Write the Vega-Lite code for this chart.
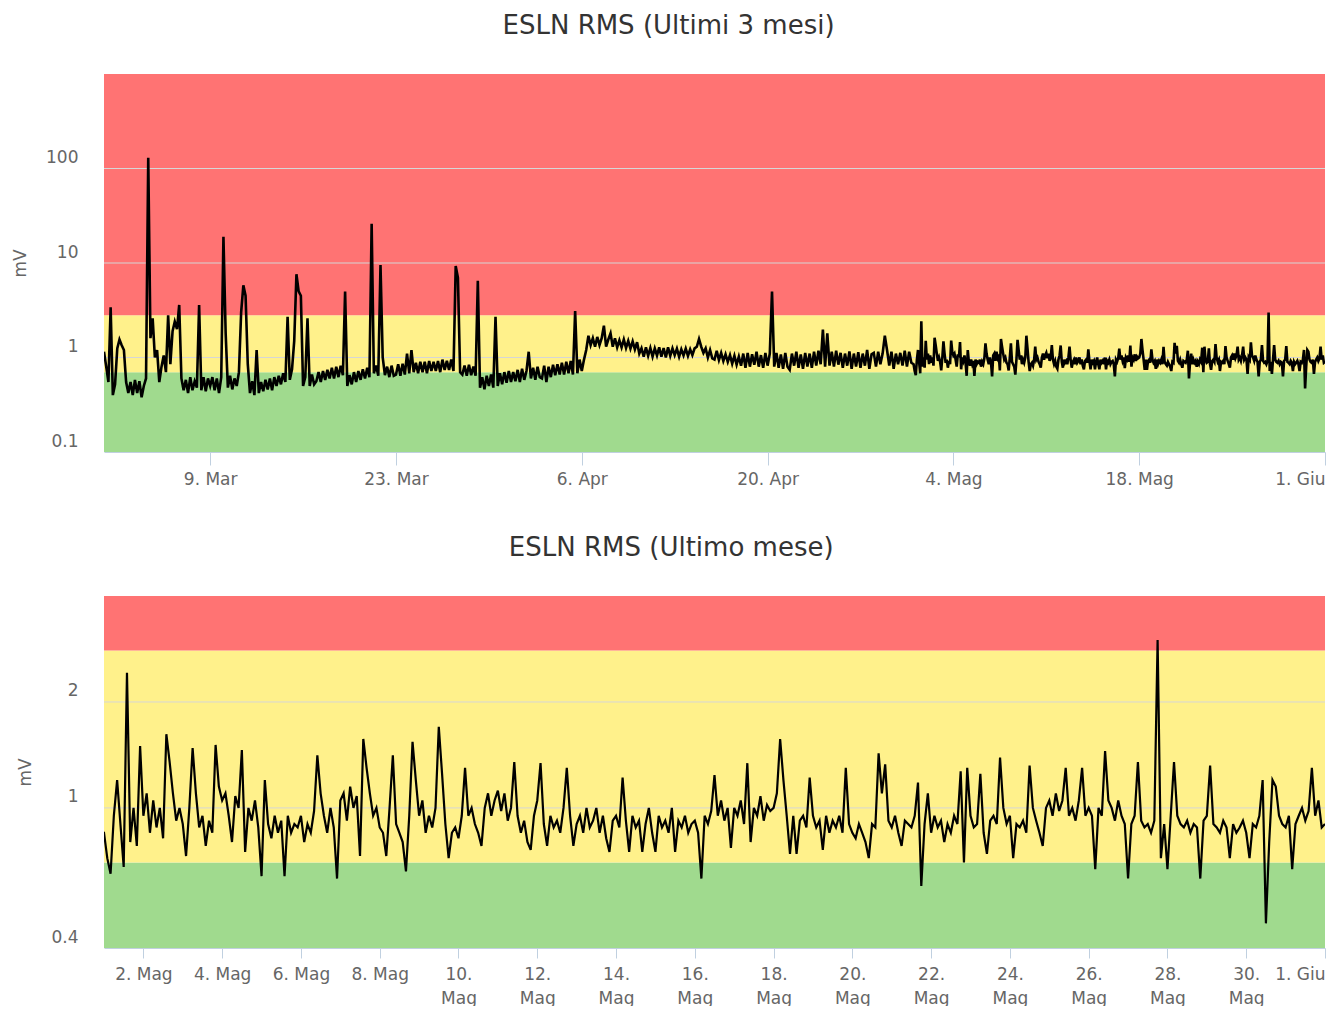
{
  "$schema": "https://vega.github.io/schema/vega-lite/v6.json",
  "padding": {"left": 11, "right": 2, "top": 13, "bottom": 0},
  "datasets": {
    "bandsTop": [
      {"zone": "verde", "lo": 0.1, "hi": 0.7},
      {"zone": "giallo", "lo": 0.7, "hi": 2.8},
      {"zone": "rosso", "lo": 2.8, "hi": 1000}
    ],
    "bandsBot": [
      {"zone": "verde", "lo": 0.4, "hi": 0.7},
      {"zone": "giallo", "lo": 0.7, "hi": 2.8},
      {"zone": "rosso", "lo": 2.8, "hi": 4}
    ],
    "gridTop": [{"g": 1}, {"g": 10}, {"g": 100}],
    "gridBot": [{"g": 1}, {"g": 2}],
    "rms": [
      {"t":"2015-03-01T00:00","v":1.15},{"t":"2015-03-01T04:00","v":0.8},{"t":"2015-03-01T08:00","v":0.55},{"t":"2015-03-01T12:00","v":3.4},{"t":"2015-03-01T16:00","v":0.4},{"t":"2015-03-01T20:00","v":0.52},
      {"t":"2015-03-02T00:00","v":1.25},{"t":"2015-03-02T04:00","v":1.55},{"t":"2015-03-02T08:00","v":1.35},{"t":"2015-03-02T12:00","v":1.2},{"t":"2015-03-02T16:00","v":0.55},{"t":"2015-03-02T20:00","v":0.42},
      {"t":"2015-03-03T00:00","v":0.55},{"t":"2015-03-03T04:00","v":0.4},{"t":"2015-03-03T08:00","v":0.58},{"t":"2015-03-03T12:00","v":0.42},{"t":"2015-03-03T16:00","v":0.56},{"t":"2015-03-03T20:00","v":0.38},
      {"t":"2015-03-04T00:00","v":0.5},{"t":"2015-03-04T04:00","v":0.6},{"t":"2015-03-04T08:00","v":130},{"t":"2015-03-04T12:00","v":1.6},{"t":"2015-03-04T16:00","v":2.6},{"t":"2015-03-04T20:00","v":1.0},
      {"t":"2015-03-05T00:00","v":1.2},{"t":"2015-03-05T04:00","v":0.55},{"t":"2015-03-05T08:00","v":0.8},{"t":"2015-03-05T12:00","v":1.05},{"t":"2015-03-05T16:00","v":0.7},{"t":"2015-03-05T20:00","v":2.8},
      {"t":"2015-03-06T00:00","v":0.85},{"t":"2015-03-06T04:00","v":1.9},{"t":"2015-03-06T08:00","v":2.4},{"t":"2015-03-06T12:00","v":2.0},{"t":"2015-03-06T16:00","v":3.6},{"t":"2015-03-06T20:00","v":0.6},
      {"t":"2015-03-07T00:00","v":0.45},{"t":"2015-03-07T04:00","v":0.58},{"t":"2015-03-07T08:00","v":0.42},{"t":"2015-03-07T12:00","v":0.62},{"t":"2015-03-07T16:00","v":0.45},{"t":"2015-03-07T20:00","v":0.56},
      {"t":"2015-03-08T00:00","v":0.48},{"t":"2015-03-08T04:00","v":3.6},{"t":"2015-03-08T08:00","v":0.45},{"t":"2015-03-08T12:00","v":0.62},{"t":"2015-03-08T16:00","v":0.44},{"t":"2015-03-08T20:00","v":0.6},
      {"t":"2015-03-09T00:00","v":0.5},{"t":"2015-03-09T04:00","v":0.62},{"t":"2015-03-09T08:00","v":0.45},{"t":"2015-03-09T12:00","v":0.6},{"t":"2015-03-09T16:00","v":0.42},{"t":"2015-03-09T20:00","v":0.62},
      {"t":"2015-03-10T00:00","v":19},{"t":"2015-03-10T04:00","v":1.8},{"t":"2015-03-10T08:00","v":0.48},{"t":"2015-03-10T12:00","v":0.64},{"t":"2015-03-10T16:00","v":0.46},{"t":"2015-03-10T20:00","v":0.6},
      {"t":"2015-03-11T00:00","v":0.5},{"t":"2015-03-11T04:00","v":0.7},{"t":"2015-03-11T08:00","v":3.0},{"t":"2015-03-11T12:00","v":5.8},{"t":"2015-03-11T16:00","v":4.5},{"t":"2015-03-11T20:00","v":0.85},
      {"t":"2015-03-12T00:00","v":0.42},{"t":"2015-03-12T04:00","v":0.56},{"t":"2015-03-12T08:00","v":0.4},{"t":"2015-03-12T12:00","v":1.2},{"t":"2015-03-12T16:00","v":0.42},{"t":"2015-03-12T20:00","v":0.55},
      {"t":"2015-03-13T00:00","v":0.44},{"t":"2015-03-13T04:00","v":0.58},{"t":"2015-03-13T08:00","v":0.46},{"t":"2015-03-13T12:00","v":0.6},{"t":"2015-03-13T16:00","v":0.45},{"t":"2015-03-13T20:00","v":0.62},
      {"t":"2015-03-14T00:00","v":0.5},{"t":"2015-03-14T04:00","v":0.64},{"t":"2015-03-14T08:00","v":0.52},{"t":"2015-03-14T12:00","v":0.68},{"t":"2015-03-14T16:00","v":0.55},{"t":"2015-03-14T20:00","v":2.7},
      {"t":"2015-03-15T00:00","v":0.58},{"t":"2015-03-15T04:00","v":0.75},{"t":"2015-03-15T08:00","v":1.5},{"t":"2015-03-15T12:00","v":7.6},{"t":"2015-03-15T16:00","v":5.0},{"t":"2015-03-15T20:00","v":4.5},
      {"t":"2015-03-16T00:00","v":0.5},{"t":"2015-03-16T04:00","v":0.62},{"t":"2015-03-16T08:00","v":2.6},{"t":"2015-03-16T12:00","v":0.5},{"t":"2015-03-16T16:00","v":0.66},{"t":"2015-03-16T20:00","v":0.52},
      {"t":"2015-03-17T00:00","v":0.56},{"t":"2015-03-17T04:00","v":0.7},{"t":"2015-03-17T08:00","v":0.55},{"t":"2015-03-17T12:00","v":0.72},{"t":"2015-03-17T16:00","v":0.58},{"t":"2015-03-17T20:00","v":0.74},
      {"t":"2015-03-18T00:00","v":0.6},{"t":"2015-03-18T04:00","v":0.78},{"t":"2015-03-18T08:00","v":0.6},{"t":"2015-03-18T12:00","v":0.8},{"t":"2015-03-18T16:00","v":0.62},{"t":"2015-03-18T20:00","v":0.82},
      {"t":"2015-03-19T00:00","v":0.65},{"t":"2015-03-19T04:00","v":5.0},{"t":"2015-03-19T08:00","v":0.5},{"t":"2015-03-19T12:00","v":0.65},{"t":"2015-03-19T16:00","v":0.52},{"t":"2015-03-19T20:00","v":0.7},
      {"t":"2015-03-20T00:00","v":0.55},{"t":"2015-03-20T04:00","v":0.72},{"t":"2015-03-20T08:00","v":0.58},{"t":"2015-03-20T12:00","v":0.75},{"t":"2015-03-20T16:00","v":0.6},{"t":"2015-03-20T20:00","v":0.78},
      {"t":"2015-03-21T00:00","v":0.62},{"t":"2015-03-21T04:00","v":26},{"t":"2015-03-21T08:00","v":0.68},{"t":"2015-03-21T12:00","v":0.82},{"t":"2015-03-21T16:00","v":0.64},{"t":"2015-03-21T20:00","v":9.5},
      {"t":"2015-03-22T00:00","v":1.0},{"t":"2015-03-22T04:00","v":0.65},{"t":"2015-03-22T08:00","v":0.8},{"t":"2015-03-22T12:00","v":0.62},{"t":"2015-03-22T16:00","v":0.82},{"t":"2015-03-22T20:00","v":0.64},
      {"t":"2015-03-23T00:00","v":0.66},{"t":"2015-03-23T04:00","v":0.85},{"t":"2015-03-23T08:00","v":0.64},{"t":"2015-03-23T12:00","v":0.86},{"t":"2015-03-23T16:00","v":0.66},{"t":"2015-03-23T20:00","v":1.1},
      {"t":"2015-03-24T00:00","v":0.68},{"t":"2015-03-24T04:00","v":1.2},{"t":"2015-03-24T08:00","v":0.7},{"t":"2015-03-24T12:00","v":0.88},{"t":"2015-03-24T16:00","v":0.68},{"t":"2015-03-24T20:00","v":0.9},
      {"t":"2015-03-25T00:00","v":0.7},{"t":"2015-03-25T04:00","v":0.9},{"t":"2015-03-25T08:00","v":0.68},{"t":"2015-03-25T12:00","v":0.92},{"t":"2015-03-25T16:00","v":0.72},{"t":"2015-03-25T20:00","v":0.9},
      {"t":"2015-03-26T00:00","v":0.72},{"t":"2015-03-26T04:00","v":0.92},{"t":"2015-03-26T08:00","v":0.7},{"t":"2015-03-26T12:00","v":0.95},{"t":"2015-03-26T16:00","v":0.74},{"t":"2015-03-26T20:00","v":0.92},
      {"t":"2015-03-27T00:00","v":0.74},{"t":"2015-03-27T04:00","v":0.95},{"t":"2015-03-27T08:00","v":0.72},{"t":"2015-03-27T12:00","v":9.3},{"t":"2015-03-27T16:00","v":7.0},{"t":"2015-03-27T20:00","v":0.7},
      {"t":"2015-03-28T00:00","v":0.66},{"t":"2015-03-28T04:00","v":0.82},{"t":"2015-03-28T08:00","v":0.64},{"t":"2015-03-28T12:00","v":0.84},{"t":"2015-03-28T16:00","v":0.65},{"t":"2015-03-28T20:00","v":0.8},
      {"t":"2015-03-29T00:00","v":0.64},{"t":"2015-03-29T04:00","v":6.5},{"t":"2015-03-29T08:00","v":0.48},{"t":"2015-03-29T12:00","v":0.62},{"t":"2015-03-29T16:00","v":0.46},{"t":"2015-03-29T20:00","v":0.64},
      {"t":"2015-03-30T00:00","v":0.5},{"t":"2015-03-30T04:00","v":0.66},{"t":"2015-03-30T08:00","v":0.48},{"t":"2015-03-30T12:00","v":2.7},{"t":"2015-03-30T16:00","v":0.5},{"t":"2015-03-30T20:00","v":0.68},
      {"t":"2015-03-31T00:00","v":0.52},{"t":"2015-03-31T04:00","v":0.7},{"t":"2015-03-31T08:00","v":0.54},{"t":"2015-03-31T12:00","v":0.72},{"t":"2015-03-31T16:00","v":0.55},{"t":"2015-03-31T20:00","v":0.7},
      {"t":"2015-04-01T00:00","v":0.56},{"t":"2015-04-01T04:00","v":0.74},{"t":"2015-04-01T08:00","v":0.55},{"t":"2015-04-01T12:00","v":0.76},{"t":"2015-04-01T16:00","v":0.58},{"t":"2015-04-01T20:00","v":0.72},
      {"t":"2015-04-02T00:00","v":1.15},{"t":"2015-04-02T04:00","v":0.6},{"t":"2015-04-02T08:00","v":0.78},{"t":"2015-04-02T12:00","v":0.58},{"t":"2015-04-02T16:00","v":0.8},{"t":"2015-04-02T20:00","v":0.62},
      {"t":"2015-04-03T00:00","v":0.6},{"t":"2015-04-03T04:00","v":0.82},{"t":"2015-04-03T08:00","v":0.55},{"t":"2015-04-03T12:00","v":0.8},{"t":"2015-04-03T16:00","v":0.62},{"t":"2015-04-03T20:00","v":0.84},
      {"t":"2015-04-04T00:00","v":0.65},{"t":"2015-04-04T04:00","v":0.85},{"t":"2015-04-04T08:00","v":0.66},{"t":"2015-04-04T12:00","v":0.88},{"t":"2015-04-04T16:00","v":0.66},{"t":"2015-04-04T20:00","v":0.9},
      {"t":"2015-04-05T00:00","v":0.68},{"t":"2015-04-05T04:00","v":0.92},{"t":"2015-04-05T08:00","v":0.66},{"t":"2015-04-05T12:00","v":3.1},{"t":"2015-04-05T16:00","v":0.68},{"t":"2015-04-05T20:00","v":0.95},
      {"t":"2015-04-06T00:00","v":0.72},{"t":"2015-04-06T04:00","v":0.95},{"t":"2015-04-06T08:00","v":1.2},{"t":"2015-04-06T12:00","v":1.7},{"t":"2015-04-06T16:00","v":1.35},{"t":"2015-04-06T20:00","v":1.6},
      {"t":"2015-04-07T00:00","v":1.3},{"t":"2015-04-07T04:00","v":1.65},{"t":"2015-04-07T08:00","v":1.35},{"t":"2015-04-07T12:00","v":1.6},{"t":"2015-04-07T16:00","v":2.17},{"t":"2015-04-07T20:00","v":1.3},
      {"t":"2015-04-08T00:00","v":1.55},{"t":"2015-04-08T04:00","v":1.8},{"t":"2015-04-08T08:00","v":1.3},{"t":"2015-04-08T12:00","v":1.6},{"t":"2015-04-08T16:00","v":1.28},{"t":"2015-04-08T20:00","v":1.52},
      {"t":"2015-04-09T00:00","v":1.28},{"t":"2015-04-09T04:00","v":1.55},{"t":"2015-04-09T08:00","v":1.26},{"t":"2015-04-09T12:00","v":1.5},{"t":"2015-04-09T16:00","v":1.24},{"t":"2015-04-09T20:00","v":1.48},
      {"t":"2015-04-10T00:00","v":1.22},{"t":"2015-04-10T04:00","v":1.45},{"t":"2015-04-10T08:00","v":1.1},{"t":"2015-04-10T12:00","v":1.25},{"t":"2015-04-10T16:00","v":1.02},{"t":"2015-04-10T20:00","v":1.28},
      {"t":"2015-04-11T00:00","v":1.04},{"t":"2015-04-11T04:00","v":1.26},{"t":"2015-04-11T08:00","v":1.02},{"t":"2015-04-11T12:00","v":1.25},{"t":"2015-04-11T16:00","v":1.05},{"t":"2015-04-11T20:00","v":1.28},
      {"t":"2015-04-12T00:00","v":1.02},{"t":"2015-04-12T04:00","v":1.26},{"t":"2015-04-12T08:00","v":1.0},{"t":"2015-04-12T12:00","v":1.28},{"t":"2015-04-12T16:00","v":1.04},{"t":"2015-04-12T20:00","v":1.25},
      {"t":"2015-04-13T00:00","v":1.06},{"t":"2015-04-13T04:00","v":1.24},{"t":"2015-04-13T08:00","v":1.02},{"t":"2015-04-13T12:00","v":1.22},{"t":"2015-04-13T16:00","v":1.05},{"t":"2015-04-13T20:00","v":1.24},
      {"t":"2015-04-14T00:00","v":1.04},{"t":"2015-04-14T04:00","v":1.22},{"t":"2015-04-14T08:00","v":1.06},{"t":"2015-04-14T12:00","v":1.25},{"t":"2015-04-14T16:00","v":1.3},{"t":"2015-04-14T20:00","v":1.57},
      {"t":"2015-04-15T00:00","v":1.3},{"t":"2015-04-15T04:00","v":1.12},{"t":"2015-04-15T08:00","v":1.25},{"t":"2015-04-15T12:00","v":1.0},{"t":"2015-04-15T16:00","v":1.2},{"t":"2015-04-15T20:00","v":0.98},
      {"t":"2015-04-16T00:00","v":0.95},{"t":"2015-04-16T04:00","v":1.18},{"t":"2015-04-16T08:00","v":0.94},{"t":"2015-04-16T12:00","v":1.12},{"t":"2015-04-16T16:00","v":0.92},{"t":"2015-04-16T20:00","v":1.08},
      {"t":"2015-04-17T00:00","v":0.9},{"t":"2015-04-17T04:00","v":1.06},{"t":"2015-04-17T08:00","v":0.86},{"t":"2015-04-17T12:00","v":1.04},{"t":"2015-04-17T16:00","v":0.84},{"t":"2015-04-17T20:00","v":1.02},
      {"t":"2015-04-18T00:00","v":0.82},{"t":"2015-04-18T04:00","v":1.1},{"t":"2015-04-18T08:00","v":0.78},{"t":"2015-04-18T12:00","v":1.12},{"t":"2015-04-18T16:00","v":0.8},{"t":"2015-04-18T20:00","v":1.08},
      {"t":"2015-04-19T00:00","v":0.84},{"t":"2015-04-19T04:00","v":1.15},{"t":"2015-04-19T08:00","v":0.8},{"t":"2015-04-19T12:00","v":1.06},{"t":"2015-04-19T16:00","v":0.78},{"t":"2015-04-19T20:00","v":1.12},
      {"t":"2015-04-20T00:00","v":0.82},{"t":"2015-04-20T04:00","v":1.1},{"t":"2015-04-20T08:00","v":5.0},{"t":"2015-04-20T12:00","v":0.8},{"t":"2015-04-20T16:00","v":1.12},{"t":"2015-04-20T20:00","v":0.78},
      {"t":"2015-04-21T00:00","v":1.08},{"t":"2015-04-21T04:00","v":0.76},{"t":"2015-04-21T08:00","v":1.12},{"t":"2015-04-21T12:00","v":0.8},{"t":"2015-04-21T16:00","v":0.74},{"t":"2015-04-21T20:00","v":1.1},
      {"t":"2015-04-22T00:00","v":0.82},{"t":"2015-04-22T04:00","v":1.15},{"t":"2015-04-22T08:00","v":0.78},{"t":"2015-04-22T12:00","v":1.08},{"t":"2015-04-22T16:00","v":0.76},{"t":"2015-04-22T20:00","v":1.12},
      {"t":"2015-04-23T00:00","v":0.8},{"t":"2015-04-23T04:00","v":1.1},{"t":"2015-04-23T08:00","v":0.78},{"t":"2015-04-23T12:00","v":1.15},{"t":"2015-04-23T16:00","v":0.82},{"t":"2015-04-23T20:00","v":1.18},
      {"t":"2015-04-24T00:00","v":0.85},{"t":"2015-04-24T04:00","v":1.97},{"t":"2015-04-24T08:00","v":0.8},{"t":"2015-04-24T12:00","v":1.8},{"t":"2015-04-24T16:00","v":0.82},{"t":"2015-04-24T20:00","v":1.15},
      {"t":"2015-04-25T00:00","v":0.8},{"t":"2015-04-25T04:00","v":1.18},{"t":"2015-04-25T08:00","v":0.84},{"t":"2015-04-25T12:00","v":1.12},{"t":"2015-04-25T16:00","v":0.78},{"t":"2015-04-25T20:00","v":1.1},
      {"t":"2015-04-26T00:00","v":0.82},{"t":"2015-04-26T04:00","v":1.16},{"t":"2015-04-26T08:00","v":0.76},{"t":"2015-04-26T12:00","v":1.1},{"t":"2015-04-26T16:00","v":0.8},{"t":"2015-04-26T20:00","v":1.14},
      {"t":"2015-04-27T00:00","v":0.78},{"t":"2015-04-27T04:00","v":1.1},{"t":"2015-04-27T08:00","v":0.82},{"t":"2015-04-27T12:00","v":1.2},{"t":"2015-04-27T16:00","v":0.76},{"t":"2015-04-27T20:00","v":1.08},
      {"t":"2015-04-28T00:00","v":1.12},{"t":"2015-04-28T04:00","v":0.8},{"t":"2015-04-28T08:00","v":1.15},{"t":"2015-04-28T12:00","v":0.85},{"t":"2015-04-28T16:00","v":1.1},{"t":"2015-04-28T20:00","v":1.7},
      {"t":"2015-04-29T00:00","v":1.2},{"t":"2015-04-29T04:00","v":0.82},{"t":"2015-04-29T08:00","v":1.15},{"t":"2015-04-29T12:00","v":0.76},{"t":"2015-04-29T16:00","v":1.1},{"t":"2015-04-29T20:00","v":0.85},
      {"t":"2015-04-30T00:00","v":1.12},{"t":"2015-04-30T04:00","v":0.82},{"t":"2015-04-30T08:00","v":1.18},{"t":"2015-04-30T12:00","v":0.8},{"t":"2015-04-30T16:00","v":1.15},{"t":"2015-04-30T20:00","v":0.88},
      {"t":"2015-05-01T00:00","v":0.85},{"t":"2015-05-01T02:00","v":0.72},{"t":"2015-05-01T04:00","v":0.65},{"t":"2015-05-01T06:00","v":0.95},{"t":"2015-05-01T08:00","v":1.2},{"t":"2015-05-01T10:00","v":0.9},{"t":"2015-05-01T12:00","v":0.68},{"t":"2015-05-01T14:00","v":2.42},{"t":"2015-05-01T16:00","v":0.8},{"t":"2015-05-01T18:00","v":1.0},{"t":"2015-05-01T20:00","v":0.78},{"t":"2015-05-01T22:00","v":1.5},
      {"t":"2015-05-02T00:00","v":0.95},{"t":"2015-05-02T02:00","v":1.1},{"t":"2015-05-02T04:00","v":0.85},{"t":"2015-05-02T06:00","v":1.05},{"t":"2015-05-02T08:00","v":0.88},{"t":"2015-05-02T10:00","v":1.0},{"t":"2015-05-02T12:00","v":0.82},{"t":"2015-05-02T14:00","v":1.62},{"t":"2015-05-02T16:00","v":1.35},{"t":"2015-05-02T18:00","v":1.1},{"t":"2015-05-02T20:00","v":0.92},{"t":"2015-05-02T22:00","v":1.0},
      {"t":"2015-05-03T00:00","v":0.9},{"t":"2015-05-03T02:00","v":0.73},{"t":"2015-05-03T04:00","v":1.0},{"t":"2015-05-03T06:00","v":1.48},{"t":"2015-05-03T08:00","v":1.1},{"t":"2015-05-03T10:00","v":0.88},{"t":"2015-05-03T12:00","v":0.95},{"t":"2015-05-03T14:00","v":0.78},{"t":"2015-05-03T16:00","v":0.92},{"t":"2015-05-03T18:00","v":0.85},{"t":"2015-05-03T20:00","v":1.51},{"t":"2015-05-03T22:00","v":1.15},
      {"t":"2015-05-04T00:00","v":1.05},{"t":"2015-05-04T02:00","v":1.1},{"t":"2015-05-04T04:00","v":0.95},{"t":"2015-05-04T06:00","v":0.8},{"t":"2015-05-04T08:00","v":1.08},{"t":"2015-05-04T10:00","v":1.0},{"t":"2015-05-04T12:00","v":1.46},{"t":"2015-05-04T14:00","v":0.75},{"t":"2015-05-04T16:00","v":1.0},{"t":"2015-05-04T18:00","v":0.92},{"t":"2015-05-04T20:00","v":1.05},{"t":"2015-05-04T22:00","v":0.88},
      {"t":"2015-05-05T00:00","v":0.64},{"t":"2015-05-05T02:00","v":1.2},{"t":"2015-05-05T04:00","v":0.9},{"t":"2015-05-05T06:00","v":0.82},{"t":"2015-05-05T08:00","v":0.95},{"t":"2015-05-05T10:00","v":0.85},{"t":"2015-05-05T12:00","v":0.92},{"t":"2015-05-05T14:00","v":0.64},{"t":"2015-05-05T16:00","v":0.95},{"t":"2015-05-05T18:00","v":0.85},{"t":"2015-05-05T20:00","v":0.9},{"t":"2015-05-05T22:00","v":0.88},
      {"t":"2015-05-06T00:00","v":0.95},{"t":"2015-05-06T02:00","v":0.8},{"t":"2015-05-06T04:00","v":0.9},{"t":"2015-05-06T06:00","v":0.85},{"t":"2015-05-06T08:00","v":0.98},{"t":"2015-05-06T10:00","v":1.41},{"t":"2015-05-06T12:00","v":1.1},{"t":"2015-05-06T14:00","v":0.95},{"t":"2015-05-06T16:00","v":0.85},{"t":"2015-05-06T18:00","v":1.0},{"t":"2015-05-06T20:00","v":0.88},{"t":"2015-05-06T22:00","v":0.63},
      {"t":"2015-05-07T00:00","v":1.05},{"t":"2015-05-07T02:00","v":1.1},{"t":"2015-05-07T04:00","v":0.92},{"t":"2015-05-07T06:00","v":1.15},{"t":"2015-05-07T08:00","v":1.0},{"t":"2015-05-07T10:00","v":1.08},{"t":"2015-05-07T12:00","v":0.73},{"t":"2015-05-07T14:00","v":1.57},{"t":"2015-05-07T16:00","v":1.3},{"t":"2015-05-07T18:00","v":1.1},{"t":"2015-05-07T20:00","v":0.95},{"t":"2015-05-07T22:00","v":1.0},
      {"t":"2015-05-08T00:00","v":0.88},{"t":"2015-05-08T02:00","v":0.85},{"t":"2015-05-08T04:00","v":0.73},{"t":"2015-05-08T06:00","v":1.0},{"t":"2015-05-08T08:00","v":1.41},{"t":"2015-05-08T10:00","v":0.9},{"t":"2015-05-08T12:00","v":0.85},{"t":"2015-05-08T14:00","v":0.8},{"t":"2015-05-08T16:00","v":0.66},{"t":"2015-05-08T18:00","v":0.95},{"t":"2015-05-08T20:00","v":1.54},{"t":"2015-05-08T22:00","v":1.2},
      {"t":"2015-05-09T00:00","v":0.95},{"t":"2015-05-09T02:00","v":1.05},{"t":"2015-05-09T04:00","v":0.85},{"t":"2015-05-09T06:00","v":0.95},{"t":"2015-05-09T08:00","v":0.88},{"t":"2015-05-09T10:00","v":1.0},{"t":"2015-05-09T12:00","v":1.7},{"t":"2015-05-09T14:00","v":1.25},{"t":"2015-05-09T16:00","v":0.9},{"t":"2015-05-09T18:00","v":0.72},{"t":"2015-05-09T20:00","v":0.85},{"t":"2015-05-09T22:00","v":0.88},
      {"t":"2015-05-10T00:00","v":0.82},{"t":"2015-05-10T02:00","v":0.95},{"t":"2015-05-10T04:00","v":1.3},{"t":"2015-05-10T06:00","v":0.95},{"t":"2015-05-10T08:00","v":1.0},{"t":"2015-05-10T10:00","v":0.9},{"t":"2015-05-10T12:00","v":0.85},{"t":"2015-05-10T14:00","v":0.78},{"t":"2015-05-10T16:00","v":1.0},{"t":"2015-05-10T18:00","v":1.1},{"t":"2015-05-10T20:00","v":0.95},{"t":"2015-05-10T22:00","v":1.05},
      {"t":"2015-05-11T00:00","v":1.12},{"t":"2015-05-11T02:00","v":0.98},{"t":"2015-05-11T04:00","v":1.1},{"t":"2015-05-11T06:00","v":0.92},{"t":"2015-05-11T08:00","v":1.0},{"t":"2015-05-11T10:00","v":1.35},{"t":"2015-05-11T12:00","v":0.95},{"t":"2015-05-11T14:00","v":0.85},{"t":"2015-05-11T16:00","v":0.92},{"t":"2015-05-11T18:00","v":0.8},{"t":"2015-05-11T20:00","v":0.76},{"t":"2015-05-11T22:00","v":0.95},
      {"t":"2015-05-12T00:00","v":1.05},{"t":"2015-05-12T02:00","v":1.34},{"t":"2015-05-12T04:00","v":0.9},{"t":"2015-05-12T06:00","v":0.78},{"t":"2015-05-12T08:00","v":0.95},{"t":"2015-05-12T10:00","v":0.88},{"t":"2015-05-12T12:00","v":0.92},{"t":"2015-05-12T14:00","v":0.85},{"t":"2015-05-12T16:00","v":1.0},{"t":"2015-05-12T18:00","v":1.3},{"t":"2015-05-12T20:00","v":0.95},{"t":"2015-05-12T22:00","v":0.78},
      {"t":"2015-05-13T00:00","v":0.9},{"t":"2015-05-13T02:00","v":0.95},{"t":"2015-05-13T04:00","v":0.85},{"t":"2015-05-13T06:00","v":1.0},{"t":"2015-05-13T08:00","v":0.88},{"t":"2015-05-13T10:00","v":0.92},{"t":"2015-05-13T12:00","v":1.0},{"t":"2015-05-13T14:00","v":0.85},{"t":"2015-05-13T16:00","v":0.95},{"t":"2015-05-13T18:00","v":0.82},{"t":"2015-05-13T20:00","v":0.75},{"t":"2015-05-13T22:00","v":0.92},
      {"t":"2015-05-14T00:00","v":0.95},{"t":"2015-05-14T02:00","v":0.88},{"t":"2015-05-14T04:00","v":1.22},{"t":"2015-05-14T06:00","v":0.92},{"t":"2015-05-14T08:00","v":0.75},{"t":"2015-05-14T10:00","v":0.95},{"t":"2015-05-14T12:00","v":0.88},{"t":"2015-05-14T14:00","v":0.92},{"t":"2015-05-14T16:00","v":0.75},{"t":"2015-05-14T18:00","v":0.9},{"t":"2015-05-14T20:00","v":1.0},{"t":"2015-05-14T22:00","v":0.85},
      {"t":"2015-05-15T00:00","v":0.75},{"t":"2015-05-15T02:00","v":0.95},{"t":"2015-05-15T04:00","v":0.88},{"t":"2015-05-15T06:00","v":0.92},{"t":"2015-05-15T08:00","v":0.85},{"t":"2015-05-15T10:00","v":1.0},{"t":"2015-05-15T12:00","v":0.75},{"t":"2015-05-15T14:00","v":0.92},{"t":"2015-05-15T16:00","v":0.88},{"t":"2015-05-15T18:00","v":0.95},{"t":"2015-05-15T20:00","v":0.85},{"t":"2015-05-15T22:00","v":0.9},
      {"t":"2015-05-16T00:00","v":0.92},{"t":"2015-05-16T02:00","v":0.85},{"t":"2015-05-16T04:00","v":0.63},{"t":"2015-05-16T06:00","v":0.95},{"t":"2015-05-16T08:00","v":0.9},{"t":"2015-05-16T10:00","v":0.98},{"t":"2015-05-16T12:00","v":1.24},{"t":"2015-05-16T14:00","v":0.95},{"t":"2015-05-16T16:00","v":1.05},{"t":"2015-05-16T18:00","v":0.92},{"t":"2015-05-16T20:00","v":1.0},{"t":"2015-05-16T22:00","v":0.77},
      {"t":"2015-05-17T00:00","v":1.0},{"t":"2015-05-17T02:00","v":0.95},{"t":"2015-05-17T04:00","v":1.05},{"t":"2015-05-17T06:00","v":0.9},{"t":"2015-05-17T08:00","v":1.34},{"t":"2015-05-17T10:00","v":0.8},{"t":"2015-05-17T12:00","v":1.0},{"t":"2015-05-17T14:00","v":0.95},{"t":"2015-05-17T16:00","v":1.08},{"t":"2015-05-17T18:00","v":0.92},{"t":"2015-05-17T20:00","v":1.02},{"t":"2015-05-17T22:00","v":0.98},
      {"t":"2015-05-18T00:00","v":1.0},{"t":"2015-05-18T02:00","v":1.1},{"t":"2015-05-18T04:00","v":1.57},{"t":"2015-05-18T06:00","v":1.2},{"t":"2015-05-18T08:00","v":0.95},{"t":"2015-05-18T10:00","v":0.74},{"t":"2015-05-18T12:00","v":0.95},{"t":"2015-05-18T14:00","v":0.74},{"t":"2015-05-18T16:00","v":0.92},{"t":"2015-05-18T18:00","v":0.95},{"t":"2015-05-18T20:00","v":0.88},{"t":"2015-05-18T22:00","v":1.22},
      {"t":"2015-05-19T00:00","v":0.95},{"t":"2015-05-19T02:00","v":0.88},{"t":"2015-05-19T04:00","v":0.92},{"t":"2015-05-19T06:00","v":0.76},{"t":"2015-05-19T08:00","v":0.95},{"t":"2015-05-19T10:00","v":0.85},{"t":"2015-05-19T12:00","v":0.92},{"t":"2015-05-19T14:00","v":0.88},{"t":"2015-05-19T16:00","v":0.95},{"t":"2015-05-19T18:00","v":0.85},{"t":"2015-05-19T20:00","v":1.3},{"t":"2015-05-19T22:00","v":0.9},
      {"t":"2015-05-20T00:00","v":0.85},{"t":"2015-05-20T02:00","v":0.82},{"t":"2015-05-20T04:00","v":0.9},{"t":"2015-05-20T06:00","v":0.85},{"t":"2015-05-20T08:00","v":0.8},{"t":"2015-05-20T10:00","v":0.72},{"t":"2015-05-20T12:00","v":0.9},{"t":"2015-05-20T14:00","v":0.88},{"t":"2015-05-20T16:00","v":1.43},{"t":"2015-05-20T18:00","v":1.1},{"t":"2015-05-20T20:00","v":1.33},{"t":"2015-05-20T22:00","v":0.92},
      {"t":"2015-05-21T00:00","v":0.88},{"t":"2015-05-21T02:00","v":0.95},{"t":"2015-05-21T04:00","v":0.85},{"t":"2015-05-21T06:00","v":0.78},{"t":"2015-05-21T08:00","v":0.92},{"t":"2015-05-21T10:00","v":0.9},{"t":"2015-05-21T12:00","v":0.88},{"t":"2015-05-21T14:00","v":0.95},{"t":"2015-05-21T16:00","v":1.18},{"t":"2015-05-21T18:00","v":0.6},{"t":"2015-05-21T20:00","v":0.9},{"t":"2015-05-21T22:00","v":1.1},
      {"t":"2015-05-22T00:00","v":0.85},{"t":"2015-05-22T02:00","v":0.95},{"t":"2015-05-22T04:00","v":0.88},{"t":"2015-05-22T06:00","v":0.92},{"t":"2015-05-22T08:00","v":0.8},{"t":"2015-05-22T10:00","v":0.9},{"t":"2015-05-22T12:00","v":0.85},{"t":"2015-05-22T14:00","v":0.95},{"t":"2015-05-22T16:00","v":0.9},{"t":"2015-05-22T18:00","v":1.27},{"t":"2015-05-22T20:00","v":0.7},{"t":"2015-05-22T22:00","v":1.3},
      {"t":"2015-05-23T00:00","v":0.95},{"t":"2015-05-23T02:00","v":0.88},{"t":"2015-05-23T04:00","v":0.9},{"t":"2015-05-23T06:00","v":1.25},{"t":"2015-05-23T08:00","v":0.85},{"t":"2015-05-23T10:00","v":0.74},{"t":"2015-05-23T12:00","v":0.92},{"t":"2015-05-23T14:00","v":0.95},{"t":"2015-05-23T16:00","v":0.9},{"t":"2015-05-23T18:00","v":1.39},{"t":"2015-05-23T20:00","v":1.0},{"t":"2015-05-23T22:00","v":0.9},
      {"t":"2015-05-24T00:00","v":0.95},{"t":"2015-05-24T02:00","v":0.72},{"t":"2015-05-24T04:00","v":0.9},{"t":"2015-05-24T06:00","v":0.88},{"t":"2015-05-24T08:00","v":0.92},{"t":"2015-05-24T10:00","v":0.85},{"t":"2015-05-24T12:00","v":1.32},{"t":"2015-05-24T14:00","v":1.0},{"t":"2015-05-24T16:00","v":0.92},{"t":"2015-05-24T18:00","v":0.85},{"t":"2015-05-24T20:00","v":0.78},{"t":"2015-05-24T22:00","v":1.0},
      {"t":"2015-05-25T00:00","v":1.05},{"t":"2015-05-25T02:00","v":0.95},{"t":"2015-05-25T04:00","v":1.1},{"t":"2015-05-25T06:00","v":0.98},{"t":"2015-05-25T08:00","v":1.05},{"t":"2015-05-25T10:00","v":1.3},{"t":"2015-05-25T12:00","v":0.95},{"t":"2015-05-25T14:00","v":1.0},{"t":"2015-05-25T16:00","v":0.92},{"t":"2015-05-25T18:00","v":1.05},{"t":"2015-05-25T20:00","v":1.3},{"t":"2015-05-25T22:00","v":0.95},
      {"t":"2015-05-26T00:00","v":1.0},{"t":"2015-05-26T02:00","v":0.95},{"t":"2015-05-26T04:00","v":0.67},{"t":"2015-05-26T06:00","v":1.0},{"t":"2015-05-26T08:00","v":0.95},{"t":"2015-05-26T10:00","v":1.45},{"t":"2015-05-26T12:00","v":1.05},{"t":"2015-05-26T14:00","v":1.0},{"t":"2015-05-26T16:00","v":0.92},{"t":"2015-05-26T18:00","v":1.05},{"t":"2015-05-26T20:00","v":0.95},{"t":"2015-05-26T22:00","v":0.9},
      {"t":"2015-05-27T00:00","v":0.63},{"t":"2015-05-27T02:00","v":0.9},{"t":"2015-05-27T04:00","v":0.95},{"t":"2015-05-27T06:00","v":1.35},{"t":"2015-05-27T08:00","v":0.92},{"t":"2015-05-27T10:00","v":0.88},{"t":"2015-05-27T12:00","v":0.9},{"t":"2015-05-27T14:00","v":0.85},{"t":"2015-05-27T16:00","v":0.92},{"t":"2015-05-27T18:00","v":3.0},{"t":"2015-05-27T20:00","v":0.72},{"t":"2015-05-27T22:00","v":0.9},
      {"t":"2015-05-28T00:00","v":0.67},{"t":"2015-05-28T02:00","v":0.95},{"t":"2015-05-28T04:00","v":1.35},{"t":"2015-05-28T06:00","v":0.95},{"t":"2015-05-28T08:00","v":0.9},{"t":"2015-05-28T10:00","v":0.88},{"t":"2015-05-28T12:00","v":0.92},{"t":"2015-05-28T14:00","v":0.85},{"t":"2015-05-28T16:00","v":0.9},{"t":"2015-05-28T18:00","v":0.88},{"t":"2015-05-28T20:00","v":0.63},{"t":"2015-05-28T22:00","v":0.92},
      {"t":"2015-05-29T00:00","v":0.95},{"t":"2015-05-29T02:00","v":1.32},{"t":"2015-05-29T04:00","v":0.9},{"t":"2015-05-29T06:00","v":0.88},{"t":"2015-05-29T08:00","v":0.85},{"t":"2015-05-29T10:00","v":0.92},{"t":"2015-05-29T12:00","v":0.88},{"t":"2015-05-29T14:00","v":0.72},{"t":"2015-05-29T16:00","v":0.9},{"t":"2015-05-29T18:00","v":0.85},{"t":"2015-05-29T20:00","v":0.88},{"t":"2015-05-29T22:00","v":0.92},
      {"t":"2015-05-30T00:00","v":0.85},{"t":"2015-05-30T02:00","v":0.72},{"t":"2015-05-30T04:00","v":0.9},{"t":"2015-05-30T06:00","v":0.88},{"t":"2015-05-30T08:00","v":0.95},{"t":"2015-05-30T10:00","v":1.2},{"t":"2015-05-30T12:00","v":0.47},{"t":"2015-05-30T14:00","v":0.8},{"t":"2015-05-30T16:00","v":1.2},{"t":"2015-05-30T18:00","v":1.15},{"t":"2015-05-30T20:00","v":0.95},{"t":"2015-05-30T22:00","v":0.9},
      {"t":"2015-05-31T00:00","v":0.88},{"t":"2015-05-31T02:00","v":0.95},{"t":"2015-05-31T04:00","v":0.67},{"t":"2015-05-31T06:00","v":0.9},{"t":"2015-05-31T08:00","v":0.95},{"t":"2015-05-31T10:00","v":1.0},{"t":"2015-05-31T12:00","v":0.92},{"t":"2015-05-31T14:00","v":0.98},{"t":"2015-05-31T16:00","v":1.3},{"t":"2015-05-31T18:00","v":0.95},{"t":"2015-05-31T20:00","v":1.05},{"t":"2015-05-31T22:00","v":0.88},
      {"t":"2015-06-01T00:00","v":0.9}
    ]
  },
  "concat": [
    {
      "width": 1221,
      "height": 378,
      "title": {"text": "ESLN RMS (Ultimi 3 mesi)", "offset": 35},
      "layer": [
        {
          "data": {"name": "bandsTop"},
          "mark": {"type": "rect"},
          "encoding": {
            "y": {"field": "lo", "type": "quantitative", "title": "mV",
                  "scale": {"type": "log", "domain": [0.1, 1000], "nice": false, "zero": false},
                  "axis": {"values": [0.1, 1, 10, 100], "format": "~g", "grid": false, "ticks": false, "tickSize": 0, "domain": false, "labelPadding": 26, "labelOffset": -11, "titlePadding": 16}},
            "y2": {"field": "hi"},
            "color": {"field": "zone", "type": "nominal", "legend": null,
                      "scale": {"domain": ["verde", "giallo", "rosso"], "range": ["#a0da8e", "#fff18b", "#ff7373"]}}
          }
        },
        {
          "data": {"name": "gridTop"},
          "mark": {"type": "rule", "color": "#d6d6d6", "strokeWidth": 1},
          "encoding": {"y": {"field": "g", "type": "quantitative", "title": "mV"}}
        },
        {
          "data": {"name": "rms"},
          "mark": {"type": "line", "color": "#000000", "strokeWidth": 2.6, "clip": true},
          "encoding": {
            "x": {"field": "t", "type": "temporal", "title": null,
                  "scale": {"domain": [{"year": 2015, "month": 3, "date": 1}, {"year": 2015, "month": 6, "date": 1}], "nice": false},
                  "axis": {"values": [{"year": 2015, "month": 3, "date": 9}, {"year": 2015, "month": 3, "date": 23}, {"year": 2015, "month": 4, "date": 6}, {"year": 2015, "month": 4, "date": 20}, {"year": 2015, "month": 5, "date": 4}, {"year": 2015, "month": 5, "date": 18}, {"year": 2015, "month": 6, "date": 1}],
                           "labelExpr": "date(datum.value) + '. ' + ['Gen','Feb','Mar','Apr','Mag','Giu','Lug','Ago','Set','Ott','Nov','Dic'][month(datum.value)]",
                           "grid": false, "tickSize": 13, "tickColor": "#c0d0e0", "domainColor": "#c0d0e0", "labelPadding": 6, "labelFlush": true}},
            "y": {"field": "v", "type": "quantitative", "title": "mV"}
          }
        }
      ]
    },
    {
      "width": 1221,
      "height": 352,
      "title": {"text": "ESLN RMS (Ultimo mese)", "offset": 35},
      "layer": [
        {
          "data": {"name": "bandsBot"},
          "mark": {"type": "rect"},
          "encoding": {
            "y": {"field": "lo", "type": "quantitative", "title": "mV",
                  "scale": {"type": "log", "domain": [0.4, 4], "nice": false, "zero": false},
                  "axis": {"values": [0.4, 1, 2], "format": "~g", "grid": false, "ticks": false, "tickSize": 0, "domain": false, "labelPadding": 26, "labelOffset": -11, "titlePadding": 16}},
            "y2": {"field": "hi"},
            "color": {"field": "zone", "type": "nominal", "legend": null,
                      "scale": {"domain": ["verde", "giallo", "rosso"], "range": ["#a0da8e", "#fff18b", "#ff7373"]}}
          }
        },
        {
          "data": {"name": "gridBot"},
          "mark": {"type": "rule", "color": "#d6d6d6", "strokeWidth": 1},
          "encoding": {"y": {"field": "g", "type": "quantitative", "title": "mV"}}
        },
        {
          "data": {"name": "rms"},
          "mark": {"type": "line", "color": "#000000", "strokeWidth": 2.2, "clip": true},
          "encoding": {
            "x": {"field": "t", "type": "temporal", "title": null,
                  "scale": {"domain": [{"year": 2015, "month": 5, "date": 1}, {"year": 2015, "month": 6, "date": 1}], "nice": false},
                  "axis": {"values": [{"year": 2015, "month": 5, "date": 2}, {"year": 2015, "month": 5, "date": 4}, {"year": 2015, "month": 5, "date": 6}, {"year": 2015, "month": 5, "date": 8}, {"year": 2015, "month": 5, "date": 10}, {"year": 2015, "month": 5, "date": 12}, {"year": 2015, "month": 5, "date": 14}, {"year": 2015, "month": 5, "date": 16}, {"year": 2015, "month": 5, "date": 18}, {"year": 2015, "month": 5, "date": 20}, {"year": 2015, "month": 5, "date": 22}, {"year": 2015, "month": 5, "date": 24}, {"year": 2015, "month": 5, "date": 26}, {"year": 2015, "month": 5, "date": 28}, {"year": 2015, "month": 5, "date": 30}, {"year": 2015, "month": 6, "date": 1}],
                           "labelExpr": "date(datum.value) >= 10 ? [date(datum.value) + '.', 'Mag'] : date(datum.value) + '. ' + ['Gen','Feb','Mar','Apr','Mag','Giu','Lug','Ago','Set','Ott','Nov','Dic'][month(datum.value)]",
                           "grid": false, "tickSize": 10, "tickColor": "#c0d0e0", "domainColor": "#c0d0e0", "labelPadding": 8, "labelLineHeight": 24, "labelFlush": true}},
            "y": {"field": "v", "type": "quantitative", "title": "mV"}
          }
        }
      ]
    }
  ],
  "columns": 1,
  "spacing": 48,
  "config": {
    "font": "DejaVu Sans",
    "view": {"stroke": null},
    "axis": {"labelFont": "DejaVu Sans", "labelFontSize": 17, "labelColor": "#666666", "titleFont": "DejaVu Sans", "titleFontSize": 17, "titleFontWeight": "normal", "titleColor": "#666666"},
    "title": {"font": "DejaVu Sans", "fontSize": 26, "fontWeight": "normal", "color": "#333333", "anchor": "middle", "frame": "bounds"}
  }
}
